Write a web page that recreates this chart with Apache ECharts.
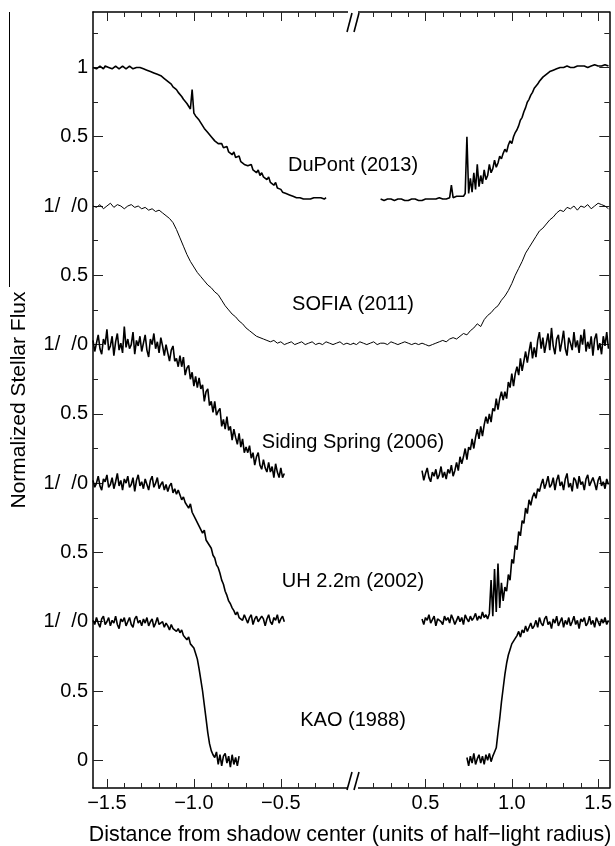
<!DOCTYPE html>
<html><head><meta charset="utf-8">
<script src="https://cdn.jsdelivr.net/npm/echarts@6/dist/echarts.min.js"></script>
<style>html,body{margin:0;padding:0;background:#fff}#c{width:615px;height:846px}</style>
</head><body><div id="c"></div>
<script>
// ---------------- DATA (flux values) ----------------
// x positions: each segment starts at x0 and is sampled at a regular step
const STEP = 0.01, STEP_SOFIA = 0.02;

const panelNames = ['DuPont (2013)', 'SOFIA (2011)', 'Siding Spring (2006)', 'UH 2.2m (2002)', 'KAO (1988)'];
const panelOffsets = [4, 3, 2, 1, 0];

const xTickMajorLeft = [-1.5, -1.0, -0.5];
const xTickMinorLeft = [-1.4, -1.3, -1.2, -1.1, -0.9, -0.8, -0.7, -0.6, -0.4, -0.3, -0.2];
const xTickMajorRight = [0.5, 1.0, 1.5];
const xTickMinorRight = [0.2, 0.3, 0.4, 0.6, 0.7, 0.8, 0.9, 1.1, 1.2, 1.3, 1.4];
const yTickMajor = [0, 0.5, 1, 1.5, 2, 2.5, 3, 3.5, 4, 4.5, 5];
const yTickMinor = [0.25, 0.75, 1.25, 1.75, 2.25, 2.75, 3.25, 3.75, 4.25, 4.75, 5.25];

const dupontLeftX0 = -1.58;
const dupontLeft = [
 1.00,1.01,0.99,1.00,1.01,1.00,0.99,1.01,1.00,1.00,
 1.01,0.99,1.00,1.01,1.00,0.99,1.00,1.01,1.00,0.99,
 1.00,1.01,1.00,0.99,1.00,1.00,0.99,1.00,0.99,0.99,
 0.98,0.98,0.97,0.97,0.96,0.96,0.95,0.95,0.94,0.94,
 0.93,0.92,0.92,0.90,0.89,0.88,0.86,0.85,0.84,0.82,
 0.81,0.79,0.77,0.76,0.74,0.72,0.70,0.84,0.67,0.65,
 0.64,0.62,0.60,0.59,0.56,0.55,0.53,0.54,0.50,0.49,
 0.47,0.48,0.45,0.44,0.45,0.42,0.41,0.43,0.39,0.38,
 0.37,0.39,0.35,0.34,0.36,0.32,0.33,0.30,0.31,0.29,
 0.28,0.30,0.26,0.27,0.24,0.26,0.22,0.24,0.21,0.20,
 0.19,0.21,0.17,0.18,0.15,0.17,0.13,0.14,0.12,0.10,
 0.11,0.09,0.09,0.08,0.08,0.07,0.07,0.06,0.07,0.06,
 0.06,0.05,0.06,0.05,0.06,0.05,0.05,0.06,0.05,0.06,
 0.05,0.06,0.05,0.05,0.06];
const dupontRightX0 = 0.24;
const dupontRight = [
 0.05,0.05,0.04,0.05,0.05,0.04,0.05,0.05,0.04,0.05,
 0.05,0.04,0.05,0.05,0.04,0.05,0.04,0.05,0.05,0.04,
 0.05,0.05,0.04,0.05,0.04,0.05,0.05,0.04,0.05,0.05,
 0.05,0.04,0.05,0.05,0.06,0.05,0.05,0.06,0.05,0.06,
 0.06,0.15,0.06,0.06,0.07,0.06,0.07,0.08,0.07,0.09,
 0.50,0.09,0.20,0.10,0.24,0.12,0.30,0.14,0.22,0.16,
 0.26,0.19,0.22,0.30,0.24,0.27,0.33,0.28,0.31,0.36,
 0.34,0.38,0.41,0.39,0.44,0.47,0.45,0.50,0.53,0.55,
 0.58,0.62,0.64,0.68,0.71,0.75,0.77,0.80,0.82,0.85,
 0.86,0.88,0.90,0.91,0.93,0.94,0.95,0.96,0.97,0.97,
 0.98,0.98,0.99,0.99,1.00,0.99,1.00,1.00,1.01,1.00,
 1.00,1.01,1.00,1.00,1.01,1.00,1.01,1.00,1.01,1.01,
 1.00,1.01,1.01,1.00,1.02,1.01,1.01,1.02,1.01,1.02,
 1.02,1.01,1.01];

const sofiaLeftX0 = -1.58;
const sofiaLeft = [
 1.00,0.99,1.01,0.98,1.00,1.02,0.99,1.01,1.00,0.98,
 1.00,1.01,0.99,1.00,0.98,0.99,0.97,0.98,0.96,0.97,
 0.95,0.93,0.91,0.88,0.83,0.77,0.71,0.65,0.60,0.56,
 0.52,0.49,0.46,0.43,0.41,0.38,0.36,0.32,0.28,0.25,
 0.22,0.20,0.17,0.15,0.12,0.10,0.08,0.06,0.05,0.04,
 0.03,0.02,0.03,0.01,0.02,0.00,0.01,0.02,0.00,0.01,
 0.02,0.00,0.01,0.02,0.00,0.01,0.00,0.02,0.01,0.00,
 0.01,0.02,0.00,0.01,0.00,0.01];
const sofiaRightX0 = 0.08;
const sofiaRight = [
 0.01,0.00,0.02,0.01,0.00,0.01,0.02,0.00,0.01,0.01,
 0.00,0.02,0.01,0.00,0.01,0.02,0.01,0.00,0.01,0.00,
 0.01,0.00,-0.01,0.00,0.01,0.02,0.03,0.02,0.04,0.05,
 0.04,0.06,0.08,0.07,0.10,0.12,0.15,0.13,0.18,0.21,
 0.23,0.26,0.28,0.32,0.35,0.39,0.44,0.50,0.55,0.60,
 0.66,0.70,0.74,0.78,0.82,0.84,0.87,0.90,0.92,0.95,
 0.97,0.96,0.99,0.98,1.00,0.97,1.00,0.99,1.01,0.98,
 1.00,1.02,1.01,1.00,0.98];

const sidingLeftX0 = -1.58;
const sidingLeft = [
 1.03,0.95,1.01,1.07,0.97,0.93,1.04,1.00,1.11,0.96,
 0.99,1.06,0.92,1.02,1.08,0.96,1.01,0.94,1.13,0.98,
 1.04,0.97,1.00,1.09,0.93,1.03,0.99,1.06,0.95,1.01,
 1.07,0.96,0.91,1.04,1.00,1.08,0.97,1.02,0.94,1.05,
 0.99,0.92,1.00,0.94,0.88,0.96,0.99,0.88,0.90,0.84,
 0.92,0.84,0.91,0.78,0.83,0.85,0.75,0.80,0.70,0.77,
 0.69,0.76,0.68,0.71,0.59,0.66,0.68,0.56,0.59,0.51,
 0.59,0.49,0.52,0.54,0.41,0.46,0.39,0.48,0.38,0.41,
 0.31,0.39,0.33,0.28,0.36,0.26,0.32,0.22,0.26,0.22,
 0.27,0.18,0.22,0.13,0.19,0.22,0.13,0.10,0.17,0.11,
 0.08,0.15,0.08,0.12,0.04,0.14,0.08,0.04,0.11,0.04,
 0.07];
const sidingRightX0 = 0.48;
const sidingRight = [
 0.09,0.02,0.07,0.11,0.04,0.01,0.08,0.05,0.10,0.03,
 0.06,0.12,0.04,0.08,0.03,0.10,0.07,0.13,0.05,0.09,
 0.15,0.09,0.19,0.14,0.19,0.25,0.17,0.26,0.24,0.32,
 0.25,0.33,0.39,0.32,0.41,0.34,0.42,0.48,0.43,0.50,
 0.44,0.54,0.52,0.61,0.53,0.61,0.66,0.60,0.66,0.61,
 0.73,0.69,0.79,0.70,0.79,0.84,0.78,0.90,0.81,0.88,
 0.95,0.87,0.95,1.02,0.90,0.98,0.91,1.03,1.09,0.97,
 1.05,0.94,1.01,1.08,0.96,1.12,0.99,0.93,1.04,1.07,
 0.95,1.02,1.10,0.97,0.92,1.05,1.01,0.96,1.09,0.98,
 1.03,0.94,1.07,1.00,1.11,0.95,1.02,0.97,1.06,0.92,
 1.04,1.08,0.96,1.01,0.93,1.06,0.99,1.09,0.97];

const uhLeftX0 = -1.58;
const uhLeft = [
 1.02,0.97,1.00,1.05,0.98,0.95,1.03,1.01,1.06,0.97,
 0.99,1.04,0.96,1.01,1.07,0.98,1.02,0.95,1.03,1.00,
 1.05,0.97,0.99,1.04,0.94,1.02,1.06,0.98,1.01,0.96,
 1.03,0.99,0.95,1.02,1.05,0.97,1.00,1.04,0.96,0.99,
 1.01,0.95,0.99,0.94,0.98,1.00,0.93,0.96,0.92,0.95,
 0.94,0.88,0.90,0.86,0.87,0.82,0.85,0.79,0.80,0.74,
 0.75,0.69,0.70,0.64,0.66,0.59,0.60,0.55,0.53,0.48,
 0.46,0.41,0.39,0.35,0.30,0.27,0.22,0.19,0.15,0.13,
 0.10,0.08,0.05,0.07,0.03,0.04,0.01,0.05,0.02,-0.01,
 0.03,0.05,-0.02,0.02,0.04,0.00,-0.01,0.04,0.02,-0.03,
 0.02,0.05,0.00,-0.02,0.03,0.01,0.05,-0.01,0.02,0.04,
 0.00];
const uhRightX0 = 0.48;
const uhRight = [
 0.02,-0.02,0.03,0.01,0.05,-0.01,0.00,0.04,-0.03,0.02,
 0.03,0.00,-0.02,0.04,0.01,0.03,-0.01,0.05,0.02,-0.02,
 0.01,0.04,0.00,0.03,-0.02,0.05,0.02,0.00,0.04,0.01,
 0.03,0.06,0.01,0.04,0.02,0.07,0.03,0.05,0.02,0.06,
 0.30,0.04,0.38,0.07,0.42,0.10,0.28,0.15,0.25,0.22,
 0.34,0.30,0.45,0.42,0.55,0.52,0.65,0.62,0.73,0.71,
 0.82,0.78,0.88,0.84,0.90,0.93,0.89,0.96,0.94,0.99,
 1.03,0.96,1.00,1.05,0.97,0.99,1.04,0.95,1.02,1.06,
 0.98,1.01,0.95,1.03,1.07,0.97,1.00,0.94,1.04,1.02,
 0.96,1.05,0.99,1.01,0.95,1.03,1.06,0.98,0.97,1.04,
 1.00,0.95,1.02,1.05,0.98,1.01,0.96,1.03,0.99];

const kaoLeftX0 = -1.58;
const kaoLeft = [
 1.01,0.98,1.03,0.99,0.96,1.02,1.04,0.98,1.00,1.03,
 0.97,1.01,0.99,1.04,0.98,0.95,1.02,1.00,1.03,0.97,
 1.00,1.03,0.98,0.96,1.02,1.04,0.99,1.01,0.97,1.02,
 0.99,1.03,0.97,1.00,1.02,0.96,0.99,1.03,0.98,0.97,
 1.00,0.96,0.99,0.97,0.94,0.98,0.95,0.96,0.93,0.95,
 0.92,0.94,0.90,0.91,0.87,0.89,0.84,0.85,0.81,0.77,
 0.73,0.66,0.58,0.50,0.40,0.30,0.20,0.12,0.07,0.04,
 0.02,0.06,-0.03,0.04,-0.04,0.03,0.05,-0.02,0.03,-0.05,
 0.04,-0.03,0.02,-0.04,0.03];
const kaoRightX0 = 0.74;
const kaoRight = [
 0.02,-0.04,0.03,-0.02,0.05,-0.03,0.01,0.04,-0.02,0.03,
 -0.03,0.04,0.00,0.05,-0.01,0.03,0.06,0.09,0.20,0.30,
 0.42,0.52,0.62,0.70,0.76,0.80,0.84,0.86,0.88,0.90,
 0.93,0.89,0.94,0.92,0.97,0.93,0.96,0.99,0.95,0.97,
 1.01,0.96,1.03,0.99,0.97,1.02,1.04,0.98,1.00,0.95,
 1.02,0.99,1.04,0.97,1.00,1.03,0.96,1.01,0.98,1.03,
 0.97,1.00,1.04,0.98,1.01,0.95,1.02,1.00,1.03,0.97,
 0.99,1.04,0.98,1.01,0.96,1.03,1.00,0.97,1.02,0.99,
 1.03,0.98,1.01];

// ---------------- CHART ----------------
const FONT = '"Liberation Sans", Arial, Helvetica, sans-serif';
const chart = echarts.init(document.getElementById('c'), null, {renderer: 'canvas'});

function seg(x0, step, vals, offset) {
  return vals.map((v, i) => [Math.round((x0 + i * step) * 1000) / 1000, v + offset]);
}
const xFmt = v => (v < 0 ? '\u2212' : '') + Math.abs(v).toFixed(1);
const yFmt = v => v === 0 ? '0' : (v === 5 ? '1' : (Number.isInteger(v) ? '1/  /0' : '0.5'));

const L = {min: -1.58, max: -0.085}, R = {min: 0.08, max: 1.565};
const YR = {min: -0.2, max: 5.4};
const lineStyle = {color: '#000', width: 1.5};
const tickStyle = {color: '#222', width: 1};

function xAx(grid, range, pos, ticks, len, withLine, withLabels) {
  return {
    type: 'value', gridIndex: grid, min: range.min, max: range.max, position: pos,
    axisLine: {show: withLine, onZero: false, lineStyle},
    axisTick: {show: true, inside: true, length: len, customValues: ticks, lineStyle: tickStyle},
    axisLabel: withLabels ? {show: true, customValues: ticks, formatter: xFmt, color: '#000',
      fontFamily: FONT, fontSize: 20, margin: 5} : {show: false},
    splitLine: {show: false}
  };
}
function yAx(grid, pos, ticks, len, withLine, withLabels) {
  return {
    type: 'value', gridIndex: grid, min: YR.min, max: YR.max, position: pos,
    axisLine: {show: withLine, onZero: false, lineStyle},
    axisTick: {show: true, inside: true, length: len, customValues: ticks, lineStyle: tickStyle},
    axisLabel: withLabels ? {show: true, customValues: ticks, formatter: yFmt, color: '#000',
      fontFamily: FONT, fontSize: 20, margin: 5} : {show: false},
    splitLine: {show: false}
  };
}

function lineSeries(data, xi, yi, width) {
  return {type: 'line', data, xAxisIndex: xi, yAxisIndex: yi, showSymbol: false, symbol: 'none',
    lineStyle: {color: '#000', width}, clip: true, animation: false, silent: true};
}

const series = [
  lineSeries(seg(dupontLeftX0, STEP, dupontLeft, panelOffsets[0]), 0, 0, 1.6),
  lineSeries(seg(dupontRightX0, STEP, dupontRight, panelOffsets[0]), 4, 2, 1.6),
  lineSeries(seg(sofiaLeftX0, STEP_SOFIA, sofiaLeft, panelOffsets[1]), 0, 0, 1),
  lineSeries(seg(sofiaRightX0, STEP_SOFIA, sofiaRight, panelOffsets[1]), 4, 2, 1),
  lineSeries(seg(sidingLeftX0, STEP, sidingLeft, panelOffsets[2]), 0, 0, 1.6),
  lineSeries(seg(sidingRightX0, STEP, sidingRight, panelOffsets[2]), 4, 2, 1.6),
  lineSeries(seg(uhLeftX0, STEP, uhLeft, panelOffsets[3]), 0, 0, 1.6),
  lineSeries(seg(uhRightX0, STEP, uhRight, panelOffsets[3]), 4, 2, 1.6),
  lineSeries(seg(kaoLeftX0, STEP, kaoLeft, panelOffsets[4]), 0, 0, 1.6),
  lineSeries(seg(kaoRightX0, STEP, kaoRight, panelOffsets[4]), 4, 2, 1.6)
];

const option = {
  animation: false,
  backgroundColor: '#fff',
  grid: [
    {left: 93, top: 12, width: 260, height: 776, containLabel: false},
    {left: 353, top: 12, width: 258, height: 776, containLabel: false}
  ],
  xAxis: [
    xAx(0, L, 'bottom', xTickMajorLeft, 9, true, true),
    xAx(0, L, 'bottom', xTickMinorLeft, 5, false, false),
    xAx(0, L, 'top', xTickMajorLeft, 9, true, false),
    xAx(0, L, 'top', xTickMinorLeft, 5, false, false),
    xAx(1, R, 'bottom', xTickMajorRight, 9, true, true),
    xAx(1, R, 'bottom', xTickMinorRight, 5, false, false),
    xAx(1, R, 'top', xTickMajorRight, 9, true, false),
    xAx(1, R, 'top', xTickMinorRight, 5, false, false)
  ],
  yAxis: [
    yAx(0, 'left', yTickMajor, 10, true, true),
    yAx(0, 'left', yTickMinor, 5, false, false),
    yAx(1, 'right', yTickMajor, 10, true, false),
    yAx(1, 'right', yTickMinor, 5, false, false)
  ],
  series
};
chart.setOption(option);

// decorations: axis break marks, panel names, axis titles
const bx = chart.convertToPixel({xAxisIndex: 0}, L.max);
const yTop = chart.convertToPixel({yAxisIndex: 0}, YR.max);
const yBot = chart.convertToPixel({yAxisIndex: 0}, YR.min);
const slash = (x1, y1, x2, y2) => ({type: 'line', shape: {x1, y1, x2, y2}, style: {stroke: '#000', lineWidth: 1.6}, z: 100});
const graphics = [
  {type: 'rect', shape: {x: bx - 5, y: yTop - 1, width: 10, height: 3}, style: {fill: '#fff'}, z: 99},
  {type: 'rect', shape: {x: bx - 5, y: yBot - 2, width: 10, height: 3}, style: {fill: '#fff'}, z: 99},
  slash(bx - 1, yTop + 1, bx - 6, yTop + 20),
  slash(bx + 6, yTop + 1, bx + 1, yTop + 20),
  slash(bx - 1, yBot - 16, bx - 6, yBot + 2),
  slash(bx + 6, yBot - 16, bx + 1, yBot + 2),
  {type: 'line', shape: {x1: 9.5, y1: 12, x2: 9.5, y2: 287}, style: {stroke: '#000', lineWidth: 1}},
  {type: 'text', x: 350, y: 835, style: {text: 'Distance from shadow center (units of half\u2212light radius)',
    font: '21.4px ' + FONT, fill: '#000', textAlign: 'center', textVerticalAlign: 'middle'}},
  {type: 'text', x: 19, y: 400, rotation: Math.PI / 2, style: {text: 'Normalized Stellar Flux',
    font: '21px ' + FONT, fill: '#000', textAlign: 'center', textVerticalAlign: 'middle'}}
];
panelNames.forEach((name, i) => {
  const py = chart.convertToPixel({yAxisIndex: 0}, panelOffsets[i] + 0.29);
  graphics.push({type: 'text', x: bx, y: py, style: {text: name, font: '20px ' + FONT, fill: '#000',
    textAlign: 'center', textVerticalAlign: 'middle'}});
});
chart.setOption({graphic: graphics});
</script>
</body></html>
